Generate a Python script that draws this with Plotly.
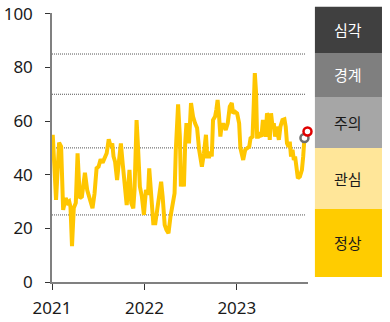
import plotly.graph_objects as go

dates = [
    "2021-01-04", "2021-01-17", "2021-01-29", "2021-02-06", "2021-02-14", "2021-02-24",
    "2021-03-04", "2021-03-10", "2021-03-15", "2021-03-21", "2021-03-28", "2021-04-05",
    "2021-04-12", "2021-04-21", "2021-04-29", "2021-05-11", "2021-05-20", "2021-05-31",
    "2021-06-10", "2021-06-18", "2021-06-26", "2021-07-04", "2021-07-12", "2021-07-20",
    "2021-07-28", "2021-08-05", "2021-08-13", "2021-08-21", "2021-08-27", "2021-09-01",
    "2021-09-07", "2021-09-15", "2021-09-23", "2021-09-30", "2021-10-07", "2021-10-15",
    "2021-10-23", "2021-10-28", "2021-11-03", "2021-11-10", "2021-11-18", "2021-11-23",
    "2021-12-01", "2021-12-06", "2021-12-14", "2021-12-22", "2021-12-30", "2022-01-07",
    "2022-01-15", "2022-01-20", "2022-01-28", "2022-02-05", "2022-02-13", "2022-02-21",
    "2022-03-01", "2022-03-08", "2022-03-14", "2022-03-22", "2022-03-29", "2022-04-06",
    "2022-04-14", "2022-04-22", "2022-04-30", "2022-05-05", "2022-05-10", "2022-05-14",
    "2022-05-21", "2022-05-25", "2022-06-01", "2022-06-06", "2022-06-11", "2022-06-16",
    "2022-06-21", "2022-06-26", "2022-07-04", "2022-07-12", "2022-07-20", "2022-07-28",
    "2022-08-05", "2022-08-16", "2022-08-24", "2022-09-01", "2022-09-06", "2022-09-14",
    "2022-09-19", "2022-09-24", "2022-09-29", "2022-10-07", "2022-10-12", "2022-10-17",
    "2022-10-22", "2022-10-28", "2022-11-02", "2022-11-10", "2022-11-18", "2022-11-26",
    "2022-12-04", "2022-12-12", "2022-12-17", "2022-12-25", "2023-01-02", "2023-01-10",
    "2023-01-15", "2023-01-20", "2023-01-26", "2023-02-03", "2023-02-11", "2023-02-19",
    "2023-02-24", "2023-03-04", "2023-03-09", "2023-03-13", "2023-03-18", "2023-03-22",
    "2023-03-27", "2023-04-01", "2023-04-08", "2023-04-14", "2023-04-20", "2023-04-25",
    "2023-04-30", "2023-05-06", "2023-05-11", "2023-05-16", "2023-05-22", "2023-05-27",
    "2023-06-01", "2023-06-06", "2023-06-11", "2023-06-16", "2023-06-22", "2023-06-30",
    "2023-07-08", "2023-07-13", "2023-07-18", "2023-07-24", "2023-07-29", "2023-08-03",
    "2023-08-09", "2023-08-14", "2023-08-19", "2023-08-25", "2023-08-30", "2023-09-07",
    "2023-09-15", "2023-09-20", "2023-09-23", "2023-09-25",
]
values = [
    54.9, 30.6, 52.0, 50.5, 26.9, 31.3,
    29.5, 30.0, 28.0, 13.4, 27.6, 29.5,
    48.0, 31.3, 31.8, 40.7, 34.3, 30.6,
    27.5, 33.0, 42.4, 43.0, 45.8, 44.5,
    46.1, 48.0, 53.2, 50.5, 51.7, 46.8,
    44.9, 38.0, 45.5, 51.7, 44.3, 35.6,
    28.7, 34.3, 41.8, 29.4, 27.5, 34.3,
    60.4, 51.7, 35.6, 31.8, 25.0, 34.3,
    32.5, 42.4, 31.8, 21.9, 21.9, 28.1,
    34.3, 37.4, 31.8, 21.3, 19.4, 18.2,
    24.4, 28.1, 33.1, 49.3, 64.2, 66.2,
    54.2, 35.6, 41.8, 35.6, 51.7, 59.2,
    56.7, 51.7, 66.7, 61.7, 59.2, 57.4,
    49.3, 43.0, 48.0, 54.9, 46.8, 46.8,
    48.6, 46.8, 60.4, 61.7, 64.2, 67.9,
    62.9, 54.2, 58.6, 58.6, 56.7, 59.2,
    65.4, 66.7, 62.9, 63.5, 62.9, 59.2,
    50.0, 46.8, 45.5, 49.3, 49.9, 50.5,
    53.6, 54.2, 66.7, 77.9, 70.4, 54.2,
    54.2, 54.9, 54.2, 60.4, 56.7, 54.2,
    62.9, 61.7, 53.0, 62.9, 57.9, 59.2,
    54.2, 57.9, 55.5, 53.0, 57.9, 60.4,
    60.7, 57.9, 51.7, 50.5, 52.3, 46.8,
    49.3, 45.5, 46.8, 41.8, 38.7, 39.3,
    41.8, 46.8, 51.1, 53.7,
]
last_date = ["2023-09-25"]
last_value = [53.7]
next_date = ["2023-10-07"]
next_value = [56.1]

x_range = ["2021-01-01", "2023-10-09"]
y_range = [0, 100.3]
y_ticks = [0, 20, 40, 60, 80, 100]
x_ticks = ["2021-01-01", "2022-01-01", "2023-01-01"]
x_ticklabels = ["2021", "2022", "2023"]
grid_levels = [85, 70, 50, 25]

level_names = ["심각", "경계", "주의", "관심", "정상"]
level_colors = ["#404040", "#7f7f7f", "#a6a6a6", "#ffe699", "#ffcc00"]
level_text_colors = ["#ffffff", "#ffffff", "#1a1a1a", "#1a1a1a", "#1a1a1a"]
level_bounds = [102.6, 85.4, 69.0, 50.0, 27.2, 1.9]

FONT = "Noto Sans CJK KR, Noto Sans, sans-serif"
NUMFONT = "Noto Sans, sans-serif"

fig = go.Figure()
fig.add_trace(go.Scatter(
    x=dates, y=values, mode="lines",
    line=dict(color="#ffc600", width=4), showlegend=False,
    cliponaxis=False,
))
fig.add_trace(go.Scatter(
    x=last_date, y=last_value, mode="markers",
    marker=dict(size=8, color="white", line=dict(color="#6f6f6f", width=2.5)),
    showlegend=False, cliponaxis=False,
))
fig.add_trace(go.Scatter(
    x=next_date, y=next_value, mode="markers",
    marker=dict(size=8, color="white", line=dict(color="#e00000", width=2.5)),
    showlegend=False, cliponaxis=False,
))

shapes = []
for g in grid_levels:
    shapes.append(dict(type="line", xref="paper", yref="y", x0=0, x1=0.99, y0=g, y1=g,
                       line=dict(color="#555555", width=1, dash="1px,1px"), layer="below"))

annotations = []
bx0, bx1 = 1.027, 1.289
ymax = y_range[1]
for i, name in enumerate(level_names):
    y0 = level_bounds[i + 1] / ymax
    y1 = level_bounds[i] / ymax
    shapes.append(dict(type="rect", xref="paper", yref="paper", x0=bx0, x1=bx1, y0=y0, y1=y1,
                       fillcolor=level_colors[i], line=dict(width=0)))
    annotations.append(dict(xref="paper", yref="paper", x=(bx0 + bx1) / 2, y=(y0 + y1) / 2,
                            xanchor="center", yanchor="middle",
                            text=name, showarrow=False,
                            font=dict(family=FONT, size=15, color=level_text_colors[i])))

fig.update_layout(
    width=390, height=322,
    margin=dict(l=52, r=82, t=13, b=40),
    paper_bgcolor="white", plot_bgcolor="white",
    shapes=shapes, annotations=annotations,
    font=dict(family=NUMFONT, size=17, color="#1a1a1a"),
    xaxis=dict(
        type="date", range=x_range, tickvals=x_ticks, ticktext=x_ticklabels,
        automargin=False, ticklabelstandoff=4,
        showgrid=False, zeroline=False, showline=True, linecolor="#808080", linewidth=1.5,
        ticks="outside", ticklen=6, tickcolor="#333333", tickwidth=1.2,
        tickfont=dict(family=NUMFONT, size=17, color="#1a1a1a"),
    ),
    yaxis=dict(
        range=y_range, tickvals=y_ticks, automargin=False, ticklabeloverflow="allow",
        ticklabelstandoff=9,
        showgrid=False, zeroline=False, showline=True, linecolor="#808080", linewidth=1.5,
        ticks="outside", ticklen=5, tickcolor="#333333", tickwidth=1.2,
        tickfont=dict(family=NUMFONT, size=17, color="#1a1a1a"),
    ),
)

fig.write_html("out.html")
